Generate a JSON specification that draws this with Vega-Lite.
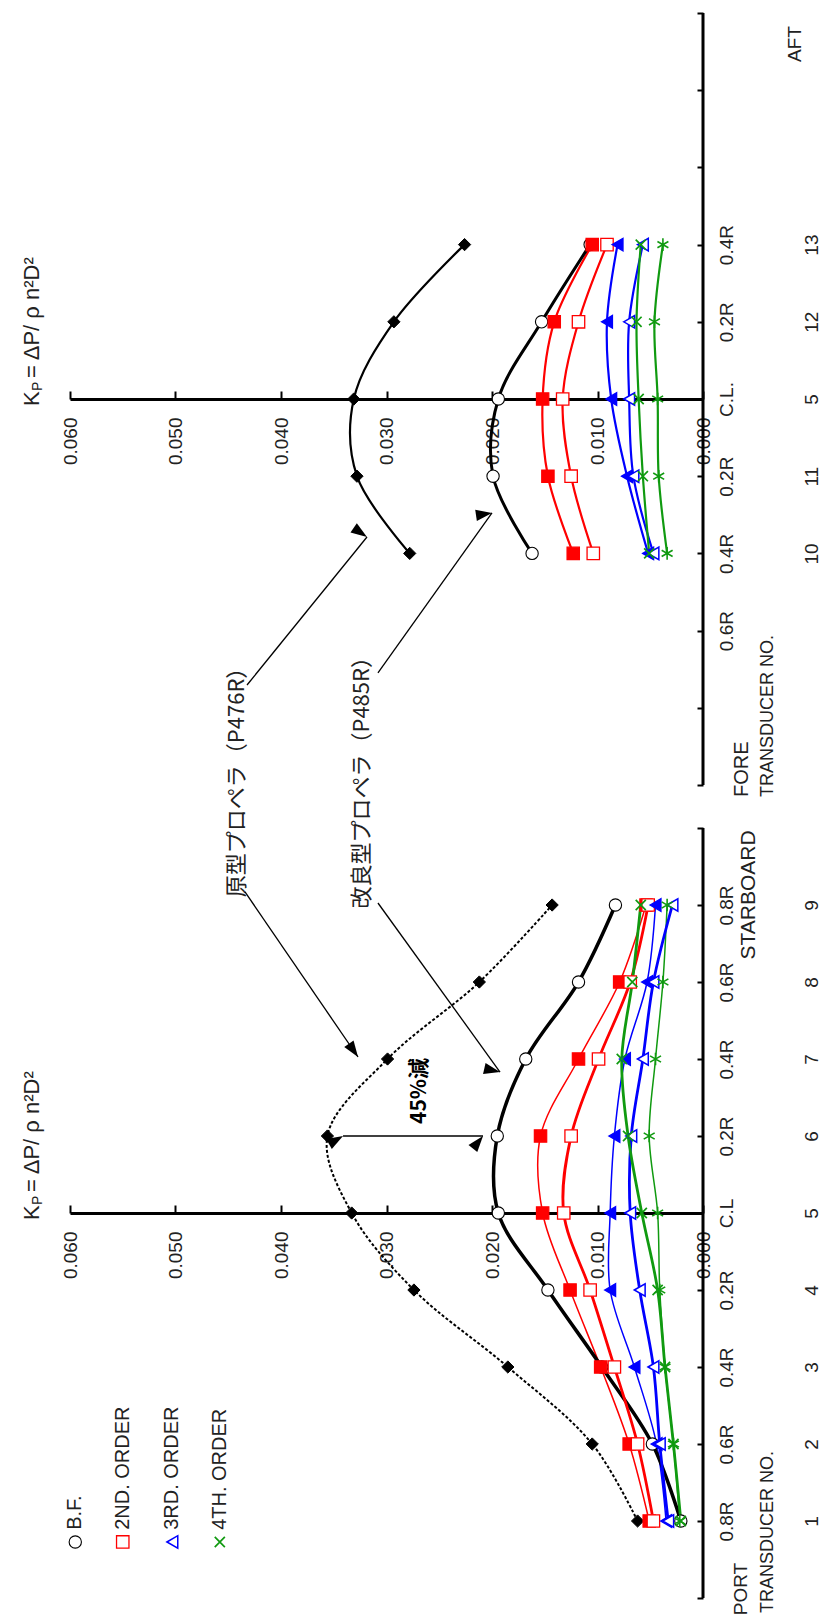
{
  "$schema": "https://vega.github.io/schema/vega-lite/v6.json",
  "width": 633,
  "height": 1585,
  "autosize": "none",
  "padding": {"left": 70, "top": 13, "right": 120, "bottom": 21},
  "background": "white",
  "config": {"view": {"stroke": null}, "font": "Liberation Sans", "text": {"font": "Liberation Sans", "color": "#222"}},
  "datasets": {
    "top": [
      {"series": "orig_bf", "pos": -0.4, "kp": 0.0278}, {"series": "orig_bf", "pos": -0.2, "kp": 0.0328}, {"series": "orig_bf", "pos": 0, "kp": 0.0331}, {"series": "orig_bf", "pos": 0.2, "kp": 0.0293}, {"series": "orig_bf", "pos": 0.4, "kp": 0.0226},
      {"series": "imp_bf", "pos": -0.4, "kp": 0.0162}, {"series": "imp_bf", "pos": -0.2, "kp": 0.0199}, {"series": "imp_bf", "pos": 0, "kp": 0.0194}, {"series": "imp_bf", "pos": 0.2, "kp": 0.0153}, {"series": "imp_bf", "pos": 0.4, "kp": 0.0107},
      {"series": "orig_2", "pos": -0.4, "kp": 0.0123}, {"series": "orig_2", "pos": -0.2, "kp": 0.0147}, {"series": "orig_2", "pos": 0, "kp": 0.0152}, {"series": "orig_2", "pos": 0.2, "kp": 0.0141}, {"series": "orig_2", "pos": 0.4, "kp": 0.0105},
      {"series": "imp_2", "pos": -0.4, "kp": 0.0104}, {"series": "imp_2", "pos": -0.2, "kp": 0.0125}, {"series": "imp_2", "pos": 0, "kp": 0.0133}, {"series": "imp_2", "pos": 0.2, "kp": 0.0118}, {"series": "imp_2", "pos": 0.4, "kp": 0.0091},
      {"series": "orig_3", "pos": -0.4, "kp": 0.0052}, {"series": "orig_3", "pos": -0.2, "kp": 0.0072}, {"series": "orig_3", "pos": 0, "kp": 0.0087}, {"series": "orig_3", "pos": 0.2, "kp": 0.0091}, {"series": "orig_3", "pos": 0.4, "kp": 0.0081},
      {"series": "imp_3", "pos": -0.4, "kp": 0.0047}, {"series": "imp_3", "pos": -0.2, "kp": 0.0066}, {"series": "imp_3", "pos": 0, "kp": 0.0070}, {"series": "imp_3", "pos": 0.2, "kp": 0.0070}, {"series": "imp_3", "pos": 0.4, "kp": 0.0057},
      {"series": "orig_4", "pos": -0.4, "kp": 0.0034}, {"series": "orig_4", "pos": -0.2, "kp": 0.0042}, {"series": "orig_4", "pos": 0, "kp": 0.0043}, {"series": "orig_4", "pos": 0.2, "kp": 0.0046}, {"series": "orig_4", "pos": 0.4, "kp": 0.0038},
      {"series": "imp_4", "pos": -0.4, "kp": 0.0051}, {"series": "imp_4", "pos": -0.2, "kp": 0.0057}, {"series": "imp_4", "pos": 0, "kp": 0.0061}, {"series": "imp_4", "pos": 0.2, "kp": 0.0063}, {"series": "imp_4", "pos": 0.4, "kp": 0.0059}
    ],
    "bottom": [
      {"series": "orig_bf", "pos": -0.8, "kp": 0.0062}, {"series": "orig_bf", "pos": -0.6, "kp": 0.0105}, {"series": "orig_bf", "pos": -0.4, "kp": 0.0185}, {"series": "orig_bf", "pos": -0.2, "kp": 0.0274}, {"series": "orig_bf", "pos": 0, "kp": 0.0333}, {"series": "orig_bf", "pos": 0.2, "kp": 0.0356}, {"series": "orig_bf", "pos": 0.4, "kp": 0.0299}, {"series": "orig_bf", "pos": 0.6, "kp": 0.0212}, {"series": "orig_bf", "pos": 0.8, "kp": 0.0143},
      {"series": "imp_bf", "pos": -0.8, "kp": 0.0021}, {"series": "imp_bf", "pos": -0.6, "kp": 0.0048}, {"series": "imp_bf", "pos": -0.4, "kp": 0.0096}, {"series": "imp_bf", "pos": -0.2, "kp": 0.0147}, {"series": "imp_bf", "pos": 0, "kp": 0.0194}, {"series": "imp_bf", "pos": 0.2, "kp": 0.0195}, {"series": "imp_bf", "pos": 0.4, "kp": 0.0168}, {"series": "imp_bf", "pos": 0.6, "kp": 0.0118}, {"series": "imp_bf", "pos": 0.8, "kp": 0.0083},
      {"series": "orig_2", "pos": -0.8, "kp": 0.0051}, {"series": "orig_2", "pos": -0.6, "kp": 0.0070}, {"series": "orig_2", "pos": -0.4, "kp": 0.0097}, {"series": "orig_2", "pos": -0.2, "kp": 0.0126}, {"series": "orig_2", "pos": 0, "kp": 0.0152}, {"series": "orig_2", "pos": 0.2, "kp": 0.0154}, {"series": "orig_2", "pos": 0.4, "kp": 0.0118}, {"series": "orig_2", "pos": 0.6, "kp": 0.0079}, {"series": "orig_2", "pos": 0.8, "kp": 0.0054},
      {"series": "imp_2", "pos": -0.8, "kp": 0.0047}, {"series": "imp_2", "pos": -0.6, "kp": 0.0062}, {"series": "imp_2", "pos": -0.4, "kp": 0.0084}, {"series": "imp_2", "pos": -0.2, "kp": 0.0107}, {"series": "imp_2", "pos": 0, "kp": 0.0132}, {"series": "imp_2", "pos": 0.2, "kp": 0.0125}, {"series": "imp_2", "pos": 0.4, "kp": 0.0099}, {"series": "imp_2", "pos": 0.6, "kp": 0.0069}, {"series": "imp_2", "pos": 0.8, "kp": 0.0052},
      {"series": "orig_3", "pos": -0.8, "kp": 0.0035}, {"series": "orig_3", "pos": -0.6, "kp": 0.0044}, {"series": "orig_3", "pos": -0.4, "kp": 0.0065}, {"series": "orig_3", "pos": -0.2, "kp": 0.0088}, {"series": "orig_3", "pos": 0, "kp": 0.0088}, {"series": "orig_3", "pos": 0.2, "kp": 0.0084}, {"series": "orig_3", "pos": 0.4, "kp": 0.0074}, {"series": "orig_3", "pos": 0.6, "kp": 0.0053}, {"series": "orig_3", "pos": 0.8, "kp": 0.0045},
      {"series": "imp_3", "pos": -0.8, "kp": 0.0033}, {"series": "imp_3", "pos": -0.6, "kp": 0.0041}, {"series": "imp_3", "pos": -0.4, "kp": 0.0047}, {"series": "imp_3", "pos": -0.2, "kp": 0.0060}, {"series": "imp_3", "pos": 0, "kp": 0.0069}, {"series": "imp_3", "pos": 0.2, "kp": 0.0068}, {"series": "imp_3", "pos": 0.4, "kp": 0.0057}, {"series": "imp_3", "pos": 0.6, "kp": 0.0047}, {"series": "imp_3", "pos": 0.8, "kp": 0.0029},
      {"series": "orig_4", "pos": -0.8, "kp": 0.0022}, {"series": "orig_4", "pos": -0.6, "kp": 0.0028}, {"series": "orig_4", "pos": -0.4, "kp": 0.0036}, {"series": "orig_4", "pos": -0.2, "kp": 0.0041}, {"series": "orig_4", "pos": 0, "kp": 0.0043}, {"series": "orig_4", "pos": 0.2, "kp": 0.0051}, {"series": "orig_4", "pos": 0.4, "kp": 0.0045}, {"series": "orig_4", "pos": 0.6, "kp": 0.0038}, {"series": "orig_4", "pos": 0.8, "kp": 0.0034},
      {"series": "imp_4", "pos": -0.8, "kp": 0.0021}, {"series": "imp_4", "pos": -0.6, "kp": 0.0028}, {"series": "imp_4", "pos": -0.4, "kp": 0.0036}, {"series": "imp_4", "pos": -0.2, "kp": 0.0043}, {"series": "imp_4", "pos": 0, "kp": 0.0058}, {"series": "imp_4", "pos": 0.2, "kp": 0.0071}, {"series": "imp_4", "pos": 0.4, "kp": 0.0077}, {"series": "imp_4", "pos": 0.6, "kp": 0.0067}, {"series": "imp_4", "pos": 0.8, "kp": 0.0059}
    ]
  },
  "layer": [
    {
      "encoding": {
        "x": {"field": "kp", "type": "quantitative", "scale": {"domain": [0, 0.06], "reverse": true, "nice": false, "zero": false},
          "axis": {"orient": "bottom", "offset": -1199, "values": [0, 0.01, 0.02, 0.03, 0.04, 0.05, 0.06], "format": ".3f", "title": null, "grid": false, "domain": true, "domainColor": "#000", "domainWidth": 3, "ticks": true, "tickSize": -8, "tickWidth": 2, "tickColor": "#000", "labelAngle": 270, "labelAlign": "right", "labelBaseline": "middle", "labelPadding": 26, "labelFontSize": 19, "labelColor": "#222", "labelFont": "Liberation Sans", "labelFlush": false, "labelOverlap": false}},
        "y": {"field": "pos", "type": "quantitative", "scale": {"domain": [-3.1062, 1], "nice": false, "zero": false},
          "axis": {"orient": "right", "values": [-1, -0.8, -0.6, -0.4, -0.2, 0, 0.2, 0.4, 0.6, 0.8, 1], "title": null, "grid": false, "domain": false, "ticks": true, "tickSize": -6, "tickWidth": 2, "tickColor": "#000", "labelAngle": 270, "labelAlign": "center", "labelBaseline": "top", "labelPadding": 20, "labelLineHeight": 85, "labelFontSize": 19, "labelColor": "#222", "labelFont": "Liberation Sans", "labelFlush": false, "labelOverlap": false,
            "labelExpr": "['', '', '0.6R', ['0.4R','10'], ['0.2R','11'], ['C.L.','5'], ['0.2R','12'], ['0.4R','13'], '', '', ''][round(datum.value*5)+5]"}}
      },
      "layer": [
        {"data": {"values": [{"kp": 0, "pos": -1, "pos2": 1}]}, "mark": {"type": "rule", "strokeWidth": 3, "color": "#000"}, "encoding": {"y2": {"field": "pos2"}}},
        {"data": {"name": "top"}, "transform": [{"filter": {"field": "series", "oneOf": ["orig_bf", "orig_2", "orig_3", "orig_4", "imp_2", "imp_3", "imp_4"]}}],
          "mark": {"type": "line", "interpolate": "catmull-rom", "strokeWidth": 2.2},
          "encoding": {"stroke": {"field": "series", "type": "nominal", "scale": {"domain": ["orig_bf", "imp_bf", "orig_2", "imp_2", "orig_3", "imp_3", "orig_4", "imp_4"], "range": ["#000000", "#000000", "#ff0000", "#ff0000", "#0000ff", "#0000ff", "#109a10", "#109a10"]}, "legend": null}, "order": {"field": "pos", "type": "quantitative"}}},
        {"data": {"name": "top"}, "transform": [{"filter": {"field": "series", "equal": "imp_bf"}}],
          "mark": {"type": "line", "interpolate": "catmull-rom", "strokeWidth": 3, "color": "#000"},
          "encoding": {"order": {"field": "pos", "type": "quantitative"}}},
        {"data": {"name": "top"}, "mark": {"type": "point", "opacity": 1},
          "encoding": {
            "shape": {"field": "series", "type": "nominal", "scale": {"domain": ["orig_bf", "imp_bf", "orig_2", "imp_2", "orig_3", "imp_3", "orig_4", "imp_4"], "range": ["diamond", "circle", "square", "square", "triangle-left", "triangle-left", "M0,-1L0,1M-0.87,-0.5L0.87,0.5M-0.87,0.5L0.87,-0.5", "M-0.8,-0.8L0.8,0.8M-0.8,0.8L0.8,-0.8"]}, "legend": null},
            "fill": {"field": "series", "type": "nominal", "scale": {"domain": ["orig_bf", "imp_bf", "orig_2", "imp_2", "orig_3", "imp_3", "orig_4", "imp_4"], "range": ["#000000", "#ffffff", "#ff0000", "#ffffff", "#0000ff", "#ffffff", "transparent", "transparent"]}, "legend": null},
            "stroke": {"field": "series", "type": "nominal", "legend": null},
            "size": {"field": "series", "type": "nominal", "scale": {"domain": ["orig_bf", "imp_bf", "orig_2", "imp_2", "orig_3", "imp_3", "orig_4", "imp_4"], "range": [150, 160, 300, 230, 210, 210, 220, 220]}, "legend": null},
            "strokeWidth": {"field": "series", "type": "nominal", "scale": {"domain": ["orig_bf", "imp_bf", "orig_2", "imp_2", "orig_3", "imp_3", "orig_4", "imp_4"], "range": [1, 1.7, 1, 2.3, 1, 1.8, 1.7, 2.2]}, "legend": null}
          }},
        {"data": {"values": [{"kp": 0.0636, "pos": 0}]}, "mark": {"type": "text", "angle": 270, "align": "left", "baseline": "middle", "fontSize": 22, "dx": -7}, "encoding": {"text": {"value": "K"}}},
        {"data": {"values": [{"kp": 0.0636, "pos": 0}]}, "mark": {"type": "text", "angle": 270, "align": "left", "baseline": "middle", "fontSize": 14, "dx": 8, "dy": 6}, "encoding": {"text": {"value": "P"}}},
        {"data": {"values": [{"kp": 0.0636, "pos": 0}]}, "mark": {"type": "text", "angle": 270, "align": "left", "baseline": "middle", "fontSize": 22, "dx": 21}, "encoding": {"text": {"value": " = ΔP/ ρ n²D²"}}},
        {"data": {"values": [{"kp": 0, "pos": -1}]}, "mark": {"type": "text", "angle": 270, "align": "left", "baseline": "top", "fontSize": 20, "dx": -12, "dy": 29}, "encoding": {"text": {"value": "FORE"}}},
        {"data": {"values": [{"kp": 0, "pos": -1}]}, "mark": {"type": "text", "angle": 270, "align": "left", "baseline": "top", "fontSize": 18, "dx": -12, "dy": 56}, "encoding": {"text": {"value": "TRANSDUCER NO."}}},
        {"data": {"values": [{"kp": 0, "pos": 1}]}, "mark": {"type": "text", "angle": 270, "align": "center", "baseline": "top", "fontSize": 19, "dx": -31, "dy": 83}, "encoding": {"text": {"value": "AFT"}}},
        {"data": {"values": [{"kp": 0.04415, "pos": -0.979, "t": "原型プロペラ（P476R）"}, {"kp": 0.0323, "pos": -0.98, "t": "改良型プロペラ（P485R）"}]},
          "mark": {"type": "text", "angle": 270, "align": "center", "baseline": "middle", "fontSize": 22, "font": "Noto Sans CJK JP"}, "encoding": {"text": {"field": "t"}}},
        {"data": {"values": [{"id": "a2", "kp": 0.04322, "pos": -0.7409, "kp2": 0.03185, "pos2": -0.3575}, {"id": "a4", "kp": 0.03081, "pos": -0.7098, "kp2": 0.0200, "pos2": -0.2953}]},
          "mark": {"type": "rule", "strokeWidth": 1.3, "color": "#000"}, "encoding": {"x2": {"field": "kp2"}, "y2": {"field": "pos2"}}},
        {"data": {"values": [{"id": "a2", "kp": 0.03185, "pos": -0.3575}, {"id": "a4", "kp": 0.0200, "pos": -0.2953}]},
          "mark": {"type": "point", "shape": "M0,0L-0.7,2L0.7,2Z", "filled": true, "color": "#000", "size": 260, "opacity": 1},
          "encoding": {"angle": {"field": "id", "type": "ordinal", "scale": {"domain": ["a1", "a2", "a3", "a4", "a5l", "a5r"], "range": [145.6, 39, 144.2, 35.5, 270, 90]}, "legend": null}}}
      ]
    },
    {
      "encoding": {
        "x": {"field": "kp", "type": "quantitative", "scale": {"domain": [0, 0.06], "reverse": true, "nice": false, "zero": false},
          "axis": {"orient": "bottom", "offset": -385, "values": [0, 0.01, 0.02, 0.03, 0.04, 0.05, 0.06], "format": ".3f", "title": null, "grid": false, "domain": true, "domainColor": "#000", "domainWidth": 3, "ticks": true, "tickSize": -8, "tickWidth": 2, "tickColor": "#000", "labelAngle": 270, "labelAlign": "right", "labelBaseline": "middle", "labelPadding": 26, "labelFontSize": 19, "labelColor": "#222", "labelFont": "Liberation Sans", "labelFlush": false, "labelOverlap": false}},
        "y": {"field": "pos", "type": "quantitative", "scale": {"domain": [-1, 3.1169], "nice": false, "zero": false},
          "axis": {"orient": "right", "values": [-1, -0.8, -0.6, -0.4, -0.2, 0, 0.2, 0.4, 0.6, 0.8, 1], "title": null, "grid": false, "domain": false, "ticks": true, "tickSize": -6, "tickWidth": 2, "tickColor": "#000", "labelAngle": 270, "labelAlign": "center", "labelBaseline": "top", "labelPadding": 20, "labelLineHeight": 85, "labelFontSize": 19, "labelColor": "#222", "labelFont": "Liberation Sans", "labelFlush": false, "labelOverlap": false,
            "labelExpr": "['', ['0.8R','1'], ['0.6R','2'], ['0.4R','3'], ['0.2R','4'], ['C.L','5'], ['0.2R','6'], ['0.4R','7'], ['0.6R','8'], ['0.8R','9'], ''][round(datum.value*5)+5]"}}
      },
      "layer": [
        {"data": {"values": [{"kp": 0, "pos": -1, "pos2": 1}]}, "mark": {"type": "rule", "strokeWidth": 3, "color": "#000"}, "encoding": {"y2": {"field": "pos2"}}},
        {"data": {"name": "bottom"}, "transform": [{"filter": {"field": "series", "equal": "orig_bf"}}],
          "mark": {"type": "line", "interpolate": "catmull-rom", "strokeWidth": 2, "strokeDash": [3, 2], "color": "#000"},
          "encoding": {"order": {"field": "pos", "type": "quantitative"}}},
        {"data": {"name": "bottom"}, "transform": [{"filter": {"field": "series", "oneOf": ["orig_2", "orig_3", "orig_4"]}}],
          "mark": {"type": "line", "interpolate": "catmull-rom", "strokeWidth": 1.5},
          "encoding": {"stroke": {"field": "series", "type": "nominal", "legend": null}, "order": {"field": "pos", "type": "quantitative"}}},
        {"data": {"name": "bottom"}, "transform": [{"filter": {"field": "series", "equal": "imp_bf"}}],
          "mark": {"type": "line", "interpolate": "catmull-rom", "strokeWidth": 3.5, "color": "#000"},
          "encoding": {"order": {"field": "pos", "type": "quantitative"}}},
        {"data": {"name": "bottom"}, "transform": [{"filter": {"field": "series", "oneOf": ["imp_2", "imp_3", "imp_4"]}}],
          "mark": {"type": "line", "interpolate": "catmull-rom", "strokeWidth": 2.8},
          "encoding": {"stroke": {"field": "series", "type": "nominal", "legend": null}, "order": {"field": "pos", "type": "quantitative"}}},
        {"data": {"name": "bottom"}, "mark": {"type": "point", "opacity": 1},
          "encoding": {
            "shape": {"field": "series", "type": "nominal", "legend": null},
            "fill": {"field": "series", "type": "nominal", "legend": null},
            "stroke": {"field": "series", "type": "nominal", "legend": null},
            "size": {"field": "series", "type": "nominal", "legend": null},
            "strokeWidth": {"field": "series", "type": "nominal", "legend": null}
          }},
        {"data": {"values": [{"series": "imp_bf", "kp": 0.0595, "pos": -0.8545}, {"series": "imp_2", "kp": 0.0550, "pos": -0.8545}, {"series": "imp_3", "kp": 0.0503, "pos": -0.8545}, {"series": "imp_4", "kp": 0.0458, "pos": -0.8545}]},
          "mark": {"type": "point", "opacity": 1},
          "encoding": {
            "shape": {"field": "series", "type": "nominal", "legend": null},
            "fill": {"field": "series", "type": "nominal", "legend": null},
            "stroke": {"field": "series", "type": "nominal", "legend": null},
            "size": {"field": "series", "type": "nominal", "legend": null},
            "strokeWidth": {"field": "series", "type": "nominal", "legend": null}
          }},
        {"data": {"values": [{"t": "B.F.", "kp": 0.0595, "pos": -0.823}, {"t": "2ND. ORDER", "kp": 0.0550, "pos": -0.823}, {"t": "3RD. ORDER", "kp": 0.0503, "pos": -0.823}, {"t": "4TH. ORDER", "kp": 0.0458, "pos": -0.823}]},
          "mark": {"type": "text", "angle": 270, "align": "left", "baseline": "middle", "fontSize": 20}, "encoding": {"text": {"field": "t"}}},
        {"data": {"values": [{"kp": 0.0636, "pos": 0}]}, "mark": {"type": "text", "angle": 270, "align": "left", "baseline": "middle", "fontSize": 22, "dx": -7}, "encoding": {"text": {"value": "K"}}},
        {"data": {"values": [{"kp": 0.0636, "pos": 0}]}, "mark": {"type": "text", "angle": 270, "align": "left", "baseline": "middle", "fontSize": 14, "dx": 8, "dy": 6}, "encoding": {"text": {"value": "P"}}},
        {"data": {"values": [{"kp": 0.0636, "pos": 0}]}, "mark": {"type": "text", "angle": 270, "align": "left", "baseline": "middle", "fontSize": 22, "dx": 21}, "encoding": {"text": {"value": " = ΔP/ ρ n²D²"}}},
        {"data": {"values": [{"kp": 0, "pos": 0.8}]}, "mark": {"type": "text", "angle": 270, "align": "center", "baseline": "top", "fontSize": 21, "dx": 10, "dy": 35}, "encoding": {"text": {"value": "STARBOARD"}}},
        {"data": {"values": [{"kp": 0, "pos": -1}]}, "mark": {"type": "text", "angle": 270, "align": "center", "baseline": "top", "fontSize": 19, "dx": 9, "dy": 29}, "encoding": {"text": {"value": "PORT"}}},
        {"data": {"values": [{"kp": 0, "pos": -1}]}, "mark": {"type": "text", "angle": 270, "align": "left", "baseline": "top", "fontSize": 18, "dx": -15, "dy": 56}, "encoding": {"text": {"value": "TRANSDUCER NO."}}},
        {"data": {"values": [{"kp": 0.0268, "pos": 0.317}]}, "mark": {"type": "text", "angle": 270, "align": "center", "baseline": "middle", "fontSize": 21, "fontWeight": "bold", "font": "Noto Sans CJK JP", "color": "#000"}, "encoding": {"text": {"value": "45%減"}}},
        {"data": {"values": [{"id": "a1", "kp": 0.04341, "pos": 0.8338, "kp2": 0.0327, "pos2": 0.4052}, {"id": "a3", "kp": 0.03081, "pos": 0.8052, "kp2": 0.01924, "pos2": 0.3662}, {"id": "a5", "kp": 0.03412, "pos": 0.2, "kp2": 0.02085, "pos2": 0.2}]},
          "mark": {"type": "rule", "strokeWidth": 1.3, "color": "#000"}, "encoding": {"x2": {"field": "kp2"}, "y2": {"field": "pos2"}}},
        {"data": {"values": [{"id": "a1", "kp": 0.0327, "pos": 0.4052}, {"id": "a3", "kp": 0.01924, "pos": 0.3662}, {"id": "a5l", "kp": 0.03412, "pos": 0.2}, {"id": "a5r", "kp": 0.02085, "pos": 0.2}]},
          "mark": {"type": "point", "shape": "M0,0L-0.7,2L0.7,2Z", "filled": true, "color": "#000", "size": 260, "opacity": 1},
          "encoding": {"angle": {"field": "id", "type": "ordinal", "legend": null}}}
      ]
    }
  ],
  "resolve": {"scale": {"y": "independent"}, "axis": {"x": "independent", "y": "independent"}}
}
